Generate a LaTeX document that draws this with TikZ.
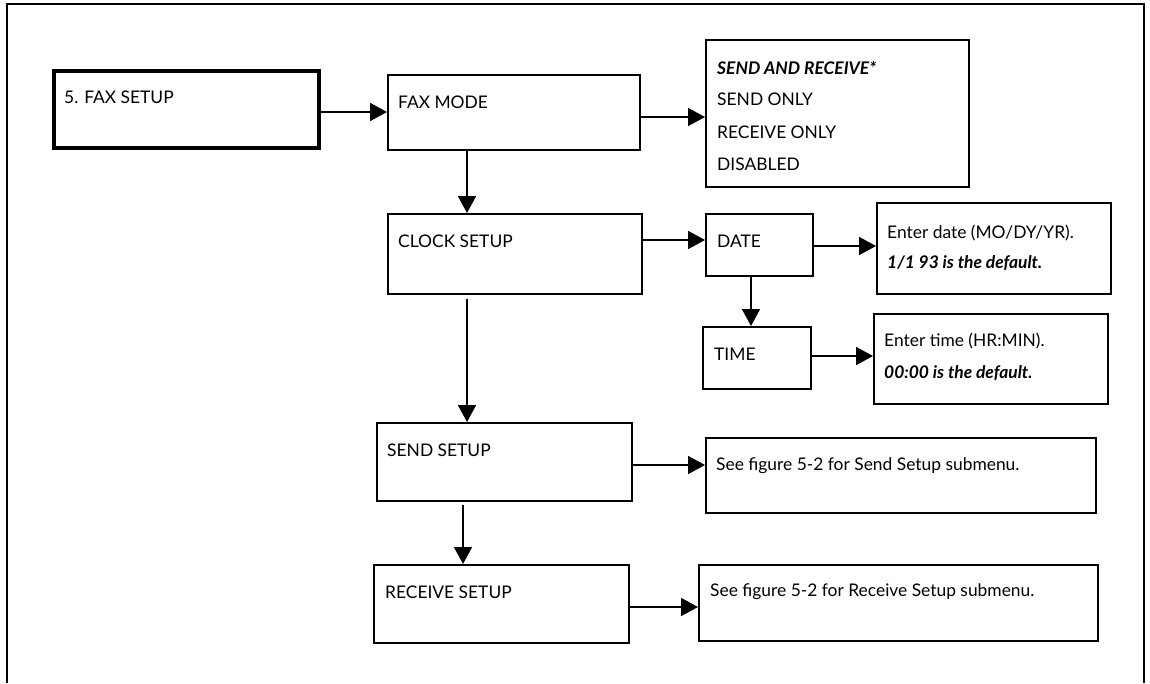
\documentclass[tikz,border=0pt]{standalone}
\usepackage{fontspec}
\setmainfont{Lato}
\usetikzlibrary{arrows.meta,calc}
\tikzset{
  box/.style={draw=black, line width=1.8pt, inner sep=0pt, anchor=north west},
  thickbox/.style={box, line width=3.6pt},
  txt/.style={anchor=west, inner sep=0pt, font=\fontsize{17.4}{20}\selectfont},
  arr/.style={line width=1.8pt, -{Triangle[length=17pt,width=18pt]}},
  frameline/.style={line width=1.6pt}
}
\begin{document}
\begin{tikzpicture}[x=1pt,y=-1pt]
\useasboundingbox (0,0) rectangle (1150,683);
\draw[frameline] (7,683) -- (7,4) -- (1144,4) -- (1144,683);

% boxes
\node[thickbox, minimum width=265pt, minimum height=77pt] (fs) at (52,69) {};
\node[box, minimum width=252pt, minimum height=75pt] (fm) at (387,74) {};
\node[box, minimum width=263pt, minimum height=147pt] (opt) at (705,39) {};
\node[box, minimum width=254pt, minimum height=80pt] (clk) at (387,213) {};
\node[box, minimum width=107pt, minimum height=62pt] (date) at (705,213) {};
\node[box, minimum width=234pt, minimum height=91pt] (edate) at (876,202) {};
\node[box, minimum width=108pt, minimum height=62pt] (time) at (702,326) {};
\node[box, minimum width=234pt, minimum height=90pt] (etime) at (873,313) {};
\node[box, minimum width=255pt, minimum height=78pt] (snd) at (376,422) {};
\node[box, minimum width=390pt, minimum height=75pt] (sndsub) at (705,437) {};
\node[box, minimum width=255pt, minimum height=78pt] (rcv) at (373,564) {};
\node[box, minimum width=399pt, minimum height=76pt] (rcvsub) at (698,564) {};

% texts
\node[txt] (tfs) at (64,97) {5. FAX SETUP};
\node[txt] (tfm) at (398,102) {FAX MODE};
\node[txt] (to1) at (717,68) {\bfseries\itshape SEND AND RECEIVE*};
\node[txt] (to2) at (717,99) {SEND ONLY};
\node[txt] (to3) at (717,132) {RECEIVE ONLY};
\node[txt] (to4) at (717,164) {DISABLED};
\node[txt] (tclk) at (398,241) {CLOCK SETUP};
\node[txt] (tdate) at (717,241) {DATE};
\node[txt] (ted1) at (887,233) {Enter date (MO/DY/YR).};
\node[txt] (ted2) at (887,263) {\bfseries\itshape 1/1 93 is the default.};
\node[txt] (ttime) at (714,354) {TIME};
\node[txt] (tet1) at (884,341) {Enter time (HR:MIN).};
\node[txt] (tet2) at (884,373) {\bfseries\itshape 00:00 is the default.};
\node[txt] (tsnd) at (387,450) {SEND SETUP};
\node[txt] (tsndsub) at (716,466) {See figure 5-2 for Send Setup submenu.};
\node[txt] (trcv) at (385,592) {RECEIVE SETUP};
\node[txt] (trcvsub) at (710,592) {See figure 5-2 for Receive Setup submenu.};

% connectors
\draw[arr] (fs.east |- 0,112) -- (fm.west |- 0,112);
\draw[arr] (fm.east |- 0,117) -- (opt.west |- 0,117);
\draw[arr] (fm.south -| 467,0) -- (clk.north -| 467,0);
\draw[arr] ($(clk.east |- 0,240)+(-2,0)$) -- (date.west |- 0,240);
\draw[arr] (date.east |- 0,246) -- (edate.west |- 0,246);
\draw[arr] (date.south -| 751,0) -- (time.north -| 751,0);
\draw[arr] (time.east |- 0,356) -- (etime.west |- 0,356);
\draw[arr] ($(clk.south -| 467,0)+(0,4)$) -- (snd.north -| 467,0);
\draw[arr] (snd.east |- 0,465) -- (sndsub.west |- 0,465);
\draw[arr] ($(snd.south -| 463,0)+(0,3)$) -- (rcv.north -| 463,0);
\draw[arr] (rcv.east |- 0,607) -- (rcvsub.west |- 0,607);
\end{tikzpicture}
\end{document}
